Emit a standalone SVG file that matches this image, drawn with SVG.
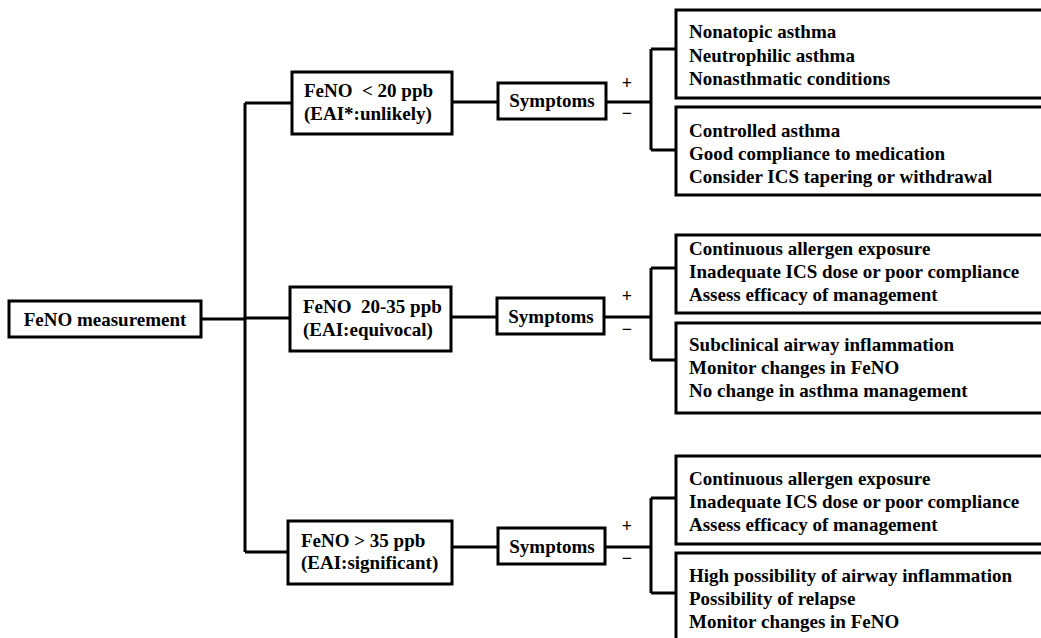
<svg xmlns="http://www.w3.org/2000/svg" width="1041" height="638" viewBox="0 0 1041 638">
<style>
.box{fill:#fff;stroke:#000;stroke-width:3}
.ln{fill:none;stroke:#000;stroke-width:3}
text{font-family:"Liberation Serif","Times New Roman",serif;font-weight:bold;font-size:19px;fill:#000}
.sg{font-size:18px}
</style>
<rect width="1041" height="638" fill="#fff"/>
<g id="connectors">
<path class="ln" d="M201,319 H245 M245,103 V552 M245,103 H292 M245,318 H290 M245,552 H288"/>
<path class="ln" d="M452,102 H498 M606,102 H651 M651,49 V150 M651,49 H676 M651,150 H676"/>
<path class="ln" d="M451,317 H497 M604,317 H651 M651,268 V360 M651,268 H676 M651,360 H676"/>
<path class="ln" d="M452,547 H498 M605,547 H651 M651,498 V593 M651,498 H676 M651,593 H676"/>
<text class="sg" x="627" y="89" text-anchor="middle">+</text>
<text class="sg" x="627" y="119" text-anchor="middle">−</text>
<text class="sg" x="627" y="302" text-anchor="middle">+</text>
<text class="sg" x="627" y="335" text-anchor="middle">−</text>
<text class="sg" x="627" y="532" text-anchor="middle">+</text>
<text class="sg" x="627" y="564" text-anchor="middle">−</text>
</g>
<g id="measurement">
<rect class="box" x="9" y="301" width="192" height="36"/>
<text x="105" y="326" text-anchor="middle">FeNO measurement</text>
</g>
<g id="low">
<rect class="box" x="292" y="72" width="160" height="62"/>
<text x="304" y="97">FeNO&#160; &lt; 20 ppb</text>
<text x="304" y="120">(EAI*:unlikely)</text>
</g>
<g id="mid">
<rect class="box" x="290" y="287" width="161" height="64"/>
<text x="303" y="313">FeNO&#160; 20-35 ppb</text>
<text x="303" y="336">(EAI:equivocal)</text>
</g>
<g id="high">
<rect class="box" x="288" y="521" width="164" height="63"/>
<text x="301" y="547">FeNO &gt; 35 ppb</text>
<text x="301" y="569">(EAI:significant)</text>
</g>
<g id="symptoms1">
<rect class="box" x="498" y="83" width="108" height="36"/>
<text x="552" y="107" text-anchor="middle">Symptoms</text>
</g>
<g id="symptoms2">
<rect class="box" x="497" y="298" width="107" height="36"/>
<text x="551" y="323" text-anchor="middle">Symptoms</text>
</g>
<g id="symptoms3">
<rect class="box" x="498" y="528" width="107" height="36"/>
<text x="552" y="553" text-anchor="middle">Symptoms</text>
</g>
<g id="low-pos">
<rect class="box" x="676" y="10" width="380" height="88"/>
<text x="689" y="38">Nonatopic asthma</text>
<text x="689" y="62">Neutrophilic asthma</text>
<text x="689" y="85">Nonasthmatic conditions</text>
</g>
<g id="low-neg">
<rect class="box" x="676" y="107" width="380" height="88"/>
<text x="689" y="137">Controlled asthma</text>
<text x="689" y="160">Good compliance to medication</text>
<text x="689" y="183">Consider ICS tapering or withdrawal</text>
</g>
<g id="mid-pos">
<rect class="box" x="676" y="235" width="380" height="78"/>
<text x="689" y="255">Continuous allergen exposure</text>
<text x="689" y="278">Inadequate ICS dose or poor compliance</text>
<text x="689" y="301">Assess efficacy of management</text>
</g>
<g id="mid-neg">
<rect class="box" x="676" y="323" width="380" height="90"/>
<text x="689" y="351">Subclinical airway inflammation</text>
<text x="689" y="374">Monitor changes in FeNO</text>
<text x="689" y="397">No change in asthma management</text>
</g>
<g id="high-pos">
<rect class="box" x="676" y="456" width="380" height="88"/>
<text x="689" y="485">Continuous allergen exposure</text>
<text x="689" y="508">Inadequate ICS dose or poor compliance</text>
<text x="689" y="531">Assess efficacy of management</text>
</g>
<g id="high-neg">
<rect class="box" x="676" y="553" width="380" height="100"/>
<text x="689" y="582">High possibility of airway inflammation</text>
<text x="689" y="605">Possibility of relapse</text>
<text x="689" y="628">Monitor changes in FeNO</text>
</g>
</svg>
